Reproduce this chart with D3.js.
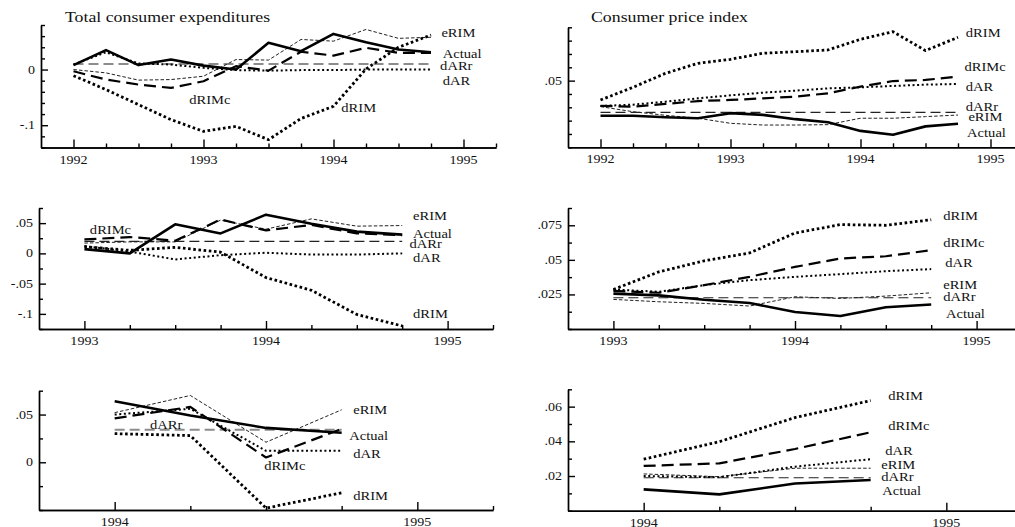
<!DOCTYPE html>
<html>
<head>
<meta charset="utf-8">
<script src="https://cdn.jsdelivr.net/npm/d3@7"></script>
<style>
  body { margin: 0; background: #fff; }
  svg { display: block; }
  text { font-family: "Liberation Serif", "Times New Roman", serif; fill: #111; }
</style>
</head>
<body>
<svg id="chart" width="1015" height="527"></svg>
<script>
// ---- Quarterly dates ----
const quarters = [1992, 1992.25, 1992.5, 1992.75, 1993, 1993.25, 1993.5, 1993.75, 1994, 1994.25, 1994.5, 1994.75];

// ---- Realised growth rates ----
const tceActual = [0.008, 0.035, 0.008, 0.018, 0.007, 0.000, 0.048, 0.033, 0.064, 0.049, 0.036, 0.031];
const cpiActual = [0.0237, 0.0237, 0.0225, 0.0218, 0.0256, 0.0243, 0.0211, 0.0188, 0.0123, 0.0094, 0.0157, 0.0177];

// ---- Total consumer expenditures, forecasts from 1992 ----
const tce92_eRIM  = [0.000, -0.006, -0.019, -0.018, -0.012, 0.018, 0.017, 0.054, 0.051, 0.072, 0.056, 0.058];
const tce92_dARr  = [0.010, 0.010, 0.010, 0.010, 0.010, 0.010, 0.010, 0.010, 0.010, 0.010, 0.010, 0.010];
const tce92_dAR   = [0.009, 0.031, 0.011, 0.009, 0.003, -0.001, -0.002, -0.001, -0.001, 0.000, 0.000, 0.000];
const tce92_dRIMc = [-0.003, -0.018, -0.027, -0.033, -0.021, 0.006, -0.002, 0.032, 0.025, 0.039, 0.030, 0.030];
const tce92_dRIM  = [-0.011, -0.036, -0.063, -0.090, -0.111, -0.102, -0.126, -0.088, -0.066, 0.001, 0.040, 0.062];

// ---- Total consumer expenditures, forecasts from 1993 ----
const tce93_eRIM  = [0.017, 0.019, 0.019, 0.055, 0.040, 0.057, 0.045, 0.046];
const tce93_dARr  = [0.020, 0.020, 0.020, 0.020, 0.020, 0.020, 0.020, 0.020];
const tce93_dAR   = [0.012, 0.003, -0.010, -0.003, 0.001, -0.002, -0.002, 0.000];
const tce93_dRIMc = [0.023, 0.027, 0.021, 0.056, 0.038, 0.047, 0.033, 0.030];
const tce93_dRIM  = [0.011, 0.005, 0.010, 0.002, -0.040, -0.061, -0.101, -0.120];

// ---- Total consumer expenditures, forecasts from 1994 ----
const tce94_eRIM  = [0.052, 0.070, 0.021, 0.055];
const tce94_dARr  = [0.034, 0.034, 0.034, 0.034];
const tce94_dAR   = [0.050, 0.056, 0.012, 0.012];
const tce94_dRIMc = [0.046, 0.058, 0.005, 0.035];
const tce94_dRIM  = [0.030, 0.028, -0.048, -0.032];

// ---- Consumer price index, forecasts from 1992 ----
const cpi92_eRIM  = [0.0305, 0.0267, 0.0240, 0.0218, 0.0180, 0.0167, 0.0167, 0.0170, 0.0218, 0.0218, 0.0230, 0.0242];
const cpi92_dARr  = [0.0262, 0.0262, 0.0262, 0.0262, 0.0262, 0.0262, 0.0262, 0.0262, 0.0262, 0.0262, 0.0262, 0.0262];
const cpi92_dAR   = [0.0310, 0.0320, 0.0342, 0.0367, 0.0390, 0.0410, 0.0425, 0.0442, 0.0450, 0.0460, 0.0470, 0.0475];
const cpi92_dRIMc = [0.0310, 0.0305, 0.0325, 0.0347, 0.0355, 0.0367, 0.0380, 0.0405, 0.0455, 0.0497, 0.0505, 0.0530];
const cpi92_dRIM  = [0.0355, 0.0450, 0.0555, 0.0630, 0.0660, 0.0705, 0.0717, 0.0730, 0.0810, 0.0867, 0.0725, 0.0825];

// ---- Consumer price index, forecasts from 1993 ----
const cpi93_eRIM  = [0.0214, 0.0197, 0.0185, 0.0166, 0.0233, 0.0221, 0.0238, 0.0262];
const cpi93_dARr  = [0.0226, 0.0226, 0.0226, 0.0226, 0.0226, 0.0226, 0.0226, 0.0226];
const cpi93_dAR   = [0.0286, 0.0269, 0.0317, 0.0353, 0.0377, 0.0397, 0.0418, 0.0433];
const cpi93_dRIMc = [0.0276, 0.0262, 0.0317, 0.0377, 0.0449, 0.0510, 0.0526, 0.0570];
const cpi93_dRIM  = [0.0286, 0.0413, 0.0493, 0.0550, 0.0694, 0.0755, 0.0750, 0.0790];

// ---- Consumer price index, forecasts from 1994 ----
const cpi94_eRIM  = [0.0212, 0.0196, 0.0245, 0.0245];
const cpi94_dARr  = [0.0190, 0.0190, 0.0190, 0.0190];
const cpi94_dAR   = [0.0200, 0.0193, 0.0254, 0.0297];
const cpi94_dRIMc = [0.0258, 0.0273, 0.0356, 0.0452];
const cpi94_dRIM  = [0.0297, 0.0398, 0.0537, 0.0635];

// ---- Tick labels ----
const years92 = [1992, 1993, 1994, 1995];
const years93 = [1993, 1994, 1995];
const years94 = [1994, 1995];
const tceTicks92 = [-0.1, 0];
const tceTicks93 = [-0.1, -0.05, 0, 0.05];
const tceTicks94 = [0, 0.05];
const cpiTicks92 = [0.05];
const cpiTicks93 = [0.025, 0.05, 0.075];
const cpiTicks94 = [0.02, 0.04, 0.06];

const seriesNames = ["dARr", "eRIM", "dAR", "dRIM", "dRIMc", "Actual"];

// ---- Line styles ----
const styles = {
  Actual: { stroke: "#000", width: 2.6, dash: null },
  dRIMc:  { stroke: "#000", width: 2.2, dash: "12,6" },
  dRIM:   { stroke: "#000", width: 2.8, dash: "2.6,2.6" },
  dAR:    { stroke: "#000", width: 2.0, dash: "2,2.6" },
  eRIM:   { stroke: "#222", width: 1.0, dash: "3.5,2" },
  dARr:   { stroke: "#222", width: 1.2, dash: "10,5" }
};

// ---- Panel definitions ----
const panels = [
  { box: [41, 496, 25, 147.5], x: [1991.75, 1995.25], y: [-0.14, 0.08], minor: 0.02,
    years: years92, ticks: tceTicks92, start: 0, actual: tceActual,
    series: { eRIM: tce92_eRIM, dARr: tce92_dARr, dAR: tce92_dAR, dRIMc: tce92_dRIMc, dRIM: tce92_dRIM },
    title: "Total consumer expenditures", titleAt: [65, 22], grayAR: true,
    labels: [["eRIM", 1994.83, 0.058], ["Actual", 1994.84, 0.021], ["dARr", 1994.82, 0.000],
             ["dAR", 1994.84, -0.027], ["dRIMc", 1992.89, -0.061], ["dRIM", 1994.06, -0.076]] },
  { box: [568, 1023, 27.3, 147.3], x: [1991.75, 1995.25], y: [0, 0.09], minor: 0.01,
    years: years92, ticks: cpiTicks92, start: 0, actual: cpiActual,
    series: { eRIM: cpi92_eRIM, dARr: cpi92_dARr, dAR: cpi92_dAR, dRIMc: cpi92_dRIMc, dRIM: cpi92_dRIM },
    title: "Consumer price index", titleAt: [591, 22],
    labels: [["dRIM", 1994.81, 0.0826], ["dRIMc", 1994.80, 0.0576], ["dAR", 1994.81, 0.0419],
             ["dARr", 1994.81, 0.0276], ["eRIM", 1994.83, 0.0194], ["Actual", 1994.82, 0.0081]] },
  { box: [39, 493, 208, 329], x: [1992.75, 1995.25], y: [-0.125, 0.075], minor: 0.025,
    years: years93, ticks: tceTicks93, start: 4, actual: tceActual,
    series: { eRIM: tce93_eRIM, dARr: tce93_dARr, dAR: tce93_dAR, dRIMc: tce93_dRIMc, dRIM: tce93_dRIM },
    labels: [["eRIM", 1994.81, 0.0544], ["Actual", 1994.81, 0.0258], ["dARr", 1994.79, 0.0081],
             ["dAR", 1994.81, -0.0145], ["dRIM", 1994.81, -0.1076], ["dRIMc", 1993.03, 0.0324]] },
  { box: [568, 1022, 208, 329], x: [1992.75, 1995.25], y: [0, 0.0875], minor: 0.0125,
    years: years93, ticks: cpiTicks93, start: 4, actual: cpiActual,
    series: { eRIM: cpi93_eRIM, dARr: cpi93_dARr, dAR: cpi93_dAR, dRIMc: cpi93_dRIMc, dRIM: cpi93_dRIM },
    labels: [["dRIM", 1994.816, 0.0785], ["dRIMc", 1994.816, 0.0591], ["dAR", 1994.827, 0.0447],
             ["eRIM", 1994.816, 0.0286], ["dARr", 1994.816, 0.0206], ["Actual", 1994.832, 0.0076]] },
  { box: [39, 493, 390.7, 510], x: [1993.75, 1995.25], y: [-0.05, 0.075], minor: 0.025,
    years: years94, ticks: tceTicks94, start: 8, actual: tceActual, grayAR: true,
    series: { eRIM: tce94_eRIM, dARr: tce94_dARr, dAR: tce94_dAR, dRIMc: tce94_dRIMc, dRIM: tce94_dRIM },
    labels: [["eRIM", 1994.788, 0.0501], ["Actual", 1994.775, 0.0229], ["dAR", 1994.788, 0.004],
             ["dRIM", 1994.788, -0.039], ["dRIMc", 1994.494, -0.0086], ["dARr", 1994.117, 0.0344]] },
  { box: [568, 1022, 389.3, 510.7], x: [1993.75, 1995.25], y: [0, 0.07], minor: 0.01,
    years: years94, ticks: cpiTicks94, start: 8, actual: cpiActual,
    series: { eRIM: cpi94_eRIM, dARr: cpi94_dARr, dAR: cpi94_dAR, dRIMc: cpi94_dRIMc, dRIM: cpi94_dRIM },
    labels: [["dRIM", 1994.808, 0.0641], ["dRIMc", 1994.808, 0.0464], ["dAR", 1994.798, 0.032],
             ["eRIM", 1994.785, 0.0238], ["dARr", 1994.785, 0.0174], ["Actual", 1994.788, 0.0093]] }
];

const svg = d3.select("#chart");

const fmt = v => {
  if (Math.abs(v) < 1e-9) return "0";
  return String(+v.toFixed(4)).replace(/^(-?)0\./, "$1.");
};

// Serif text drawn with a slight horizontal stretch
function stretchedText(g, x, y, str, size, sx, anchor) {
  return g.append("text")
    .attr("transform", `translate(${x},${y}) scale(${sx},1)`)
    .attr("text-anchor", anchor || "start")
    .style("font-size", size + "px")
    .text(str);
}

panels.forEach(p => {
  const [x0, x1, y0, y1] = p.box;
  const x = d3.scaleLinear().domain(p.x).range([x0, x1]);
  const y = d3.scaleLinear().domain(p.y).range([y1, y0]);
  const g = svg.append("g");

  // quarterly x ticks from the first year onward
  const qTicks = d3.range(Math.round((p.x[1] - p.years[0]) * 4) + 1).map(i => p.years[0] + i / 4);
  const minorTicks = qTicks.filter(t => !p.years.includes(t));

  const xMinor = d3.axisBottom(x).tickValues(minorTicks).tickSize(-4).tickSizeOuter(0).tickFormat("");
  const xMajor = d3.axisBottom(x).tickValues(p.years).tickSize(-8).tickSizeOuter(0).tickFormat("");
  g.append("g").attr("transform", `translate(0,${y1})`).call(xMinor);
  const gxM = g.append("g").attr("transform", `translate(0,${y1})`).call(xMajor);
  p.years.forEach(yr => stretchedText(g, x(yr), y1 + 16, String(yr), 12, 1.17, "middle"));

  // y ticks
  const nY = Math.round((p.y[1] - p.y[0]) / p.minor);
  const yAll = d3.range(nY + 1).map(i => +(p.y[0] + i * p.minor).toFixed(5));
  const yMinorV = yAll.filter(v => !p.ticks.some(t => Math.abs(t - v) < 1e-6));
  g.append("g").attr("transform", `translate(${x0},0)`)
    .call(d3.axisLeft(y).tickValues(yMinorV).tickSize(-4).tickSizeOuter(0).tickFormat(""));
  g.append("g").attr("transform", `translate(${x0},0)`)
    .call(d3.axisLeft(y).tickValues(p.ticks).tickSize(-7).tickSizeOuter(0).tickFormat(""));
  p.ticks.forEach(t => stretchedText(g, x0 - 6, y(t) + 4, fmt(t), 12, 1.17, "end"));

  g.selectAll(".domain, .tick line").attr("stroke", "#000").attr("stroke-width", 1.4);

  // lines
  const dates = quarters.slice(p.start);
  const line = d3.line().x((d, i) => x(dates[i])).y(d => y(d));
  seriesNames.forEach(name => {
    const vals = name === "Actual" ? p.actual.slice(p.start) : p.series[name];
    const s = styles[name];
    let stroke = s.stroke, width = s.width;
    if (name === "dARr" && p.grayAR) { stroke = "#8c8c8c"; width = 2.0; }
    g.append("path")
      .datum(vals)
      .attr("d", line)
      .attr("fill", "none")
      .attr("stroke", stroke)
      .attr("stroke-width", width)
      .attr("stroke-dasharray", s.dash)
      .attr("stroke-linejoin", "round");
  });

  // series labels
  p.labels.forEach(([name, lx, ly]) => stretchedText(g, x(lx), y(ly), name, 13, 1.12, "start"));

  if (p.title) stretchedText(g, p.titleAt[0], p.titleAt[1], p.title, 14, 1.27, "start");
});
</script>
</body>
</html>
